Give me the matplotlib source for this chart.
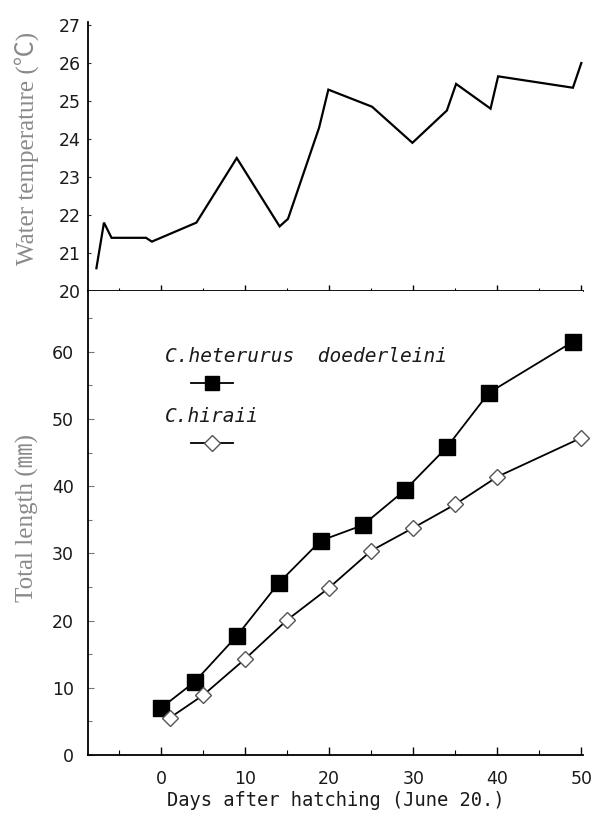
import matplotlib
matplotlib.use("Agg")
import matplotlib.pyplot as plt
from matplotlib.ticker import MultipleLocator
from matplotlib import font_manager

# ---- data ----
temp_days = [-7.7, -6.8, -5.9, -1.8, -1.1, 4.2, 9.0, 14.1, 15.1, 18.8, 19.9,
             25.1, 29.9, 34.0, 35.1, 39.2, 40.1, 49.0, 50.0]
temp_vals = [20.6, 21.8, 21.4, 21.4, 21.3, 21.8, 23.5, 21.7, 21.9, 24.3, 25.3,
             24.85, 23.9, 24.75, 25.45, 24.8, 25.65, 25.35, 26.0]

het_days = [0, 4, 9, 14, 19, 24, 29, 34, 39, 49]
het_len = [7.0, 10.9, 17.7, 25.6, 31.9, 34.2, 39.4, 45.8, 53.9, 61.5]

hir_days = [1, 5, 10, 15, 20, 25, 30, 35, 40, 50]
hir_len = [5.5, 8.9, 14.3, 20.1, 24.9, 30.4, 33.8, 37.3, 41.4, 47.2]

x_ticks = [0, 10, 20, 30, 40, 50]
len_ticks = [0, 10, 20, 30, 40, 50, 60]
temp_ticks = [20, 21, 22, 23, 24, 25, 26, 27]

label_het = "C.heterurus  doederleini"
label_hir = "C.hiraii"

avail = {f.name for f in font_manager.fontManager.ttflist}
tick_family = "Liberation Sans Narrow" if "Liberation Sans Narrow" in avail else "DejaVu Sans"
serif_fam = ["Liberation Serif", "Noto Sans CJK JP", "DejaVu Sans"]
mono_fam = ["DejaVu Sans Mono", "DejaVu Sans"]

W, H = 598, 819
fig = plt.figure(figsize=(W / 100, H / 100), dpi=100)

left_px, right_px = 88, 583
xlim = (-8.7, 50.2)

def fx(px):
    return px / W

def fy(py):
    return 1 - py / H

ax_t = fig.add_axes([fx(left_px), fy(291), fx(right_px - left_px), (291 - 22) / H])
ax_b = fig.add_axes([fx(left_px), fy(755), fx(right_px - left_px), (755 - 291) / H])

for ax in (ax_t, ax_b):
    ax.set_xlim(*xlim)
    ax.spines["top"].set_visible(False)
    ax.spines["right"].set_visible(False)
    ax.spines["left"].set_linewidth(1.3)
    ax.spines["bottom"].set_linewidth(1.3)
    ax.xaxis.set_major_locator(MultipleLocator(10))
    ax.xaxis.set_minor_locator(MultipleLocator(5))

# top panel: temperature
ax_t.plot(temp_days, temp_vals, color="black", lw=1.6, clip_on=False,
          solid_joinstyle="miter")
ax_t.set_ylim(20, 27.08)
ax_t.set_yticks(temp_ticks)
ax_t.tick_params(axis="y", direction="in", length=2.5, width=0.8, pad=5,
                 labelsize=12.5, colors="#333333", labelcolor="#1a1a1a")
ax_t.tick_params(axis="x", which="major", direction="in", length=4, width=1,
                 labelbottom=False)
ax_t.tick_params(axis="x", which="minor", direction="in", length=2.5, width=0.8)
for lab in ax_t.get_yticklabels():
    lab.set_family(tick_family)
ax_t.set_ylabel("Water temperature (℃)", family=serif_fam, fontsize=18,
                color="#8a8a8a")
ax_t.yaxis.set_label_coords(-(88 - 27) / (right_px - left_px), 0.53)
ax_t.yaxis.label.set_verticalalignment("center")

# bottom panel: total length
ax_b.plot(het_days, het_len, color="black", lw=1.3, marker="s", ms=12,
          mfc="black", mec="black", zorder=3, clip_on=False)
ax_b.plot(hir_days, hir_len, color="black", lw=1.3, marker="D", ms=8,
          mfc="white", mec="#555555", mew=1.0, zorder=3, clip_on=False)
ax_b.set_ylim(0, 69.05)
ax_b.set_yticks(len_ticks)
ax_b.yaxis.set_minor_locator(MultipleLocator(5))
ax_b.set_xticks(x_ticks)
ax_b.tick_params(axis="y", which="major", direction="in", length=4, width=0.8,
                 pad=10, labelsize=12.5, colors="#777777", labelcolor="#1a1a1a")
ax_b.tick_params(axis="y", which="minor", direction="in", length=3, width=0.8,
                 colors="#777777")
ax_b.tick_params(axis="x", which="major", direction="in", length=6, width=1,
                 pad=11, labelsize=12.5, labelcolor="#1a1a1a")
ax_b.tick_params(axis="x", which="minor", direction="in", length=3.5, width=0.8)
for lab in ax_b.get_yticklabels() + ax_b.get_xticklabels():
    lab.set_family(tick_family)
ax_b.set_ylabel("Total length (㎜)", family=serif_fam, fontsize=18,
                color="#8a8a8a")
ax_b.yaxis.set_label_coords(-(88 - 27) / (right_px - left_px), (755 - 518) / (755 - 291))
ax_b.yaxis.label.set_verticalalignment("center")
ax_b.set_xlabel("Days after hatching (June 20.)", family=mono_fam, fontsize=13.5,
                color="#1a1a1a")
ax_b.xaxis.set_label_coords((336 - left_px) / (right_px - left_px), -(800 - 755) / (755 - 291))
ax_b.xaxis.label.set_verticalalignment("center")

# legend (manual, labels above samples)
def axb_xy(px, py):
    return ((px - left_px) / (right_px - left_px), (755 - py) / (755 - 291))

tx, ty = axb_xy(165, 357)
ax_b.text(tx, ty, label_het, transform=ax_b.transAxes, family=mono_fam,
          style="italic", fontsize=14, va="center", ha="left", color="#1a1a1a")
tx, ty = axb_xy(165, 417)
ax_b.text(tx, ty, label_hir, transform=ax_b.transAxes, family=mono_fam,
          style="italic", fontsize=14, va="center", ha="left", color="#1a1a1a")
x0, y0 = axb_xy(191, 383)
x1, _ = axb_xy(233, 383)
xm, _ = axb_xy(212, 383)
ax_b.plot([x0, x1], [y0, y0], color="black", lw=1.3, transform=ax_b.transAxes)
ax_b.plot([xm], [y0], marker="s", ms=10, color="black", transform=ax_b.transAxes)
x0, y1 = axb_xy(191, 443)
ax_b.plot([x0, x1], [y1, y1], color="black", lw=1.3, transform=ax_b.transAxes)
ax_b.plot([xm], [y1], marker="D", ms=8, mfc="white", mec="#555555", mew=1.0,
          transform=ax_b.transAxes)

fig.savefig("out.png", dpi=100, facecolor="white")
